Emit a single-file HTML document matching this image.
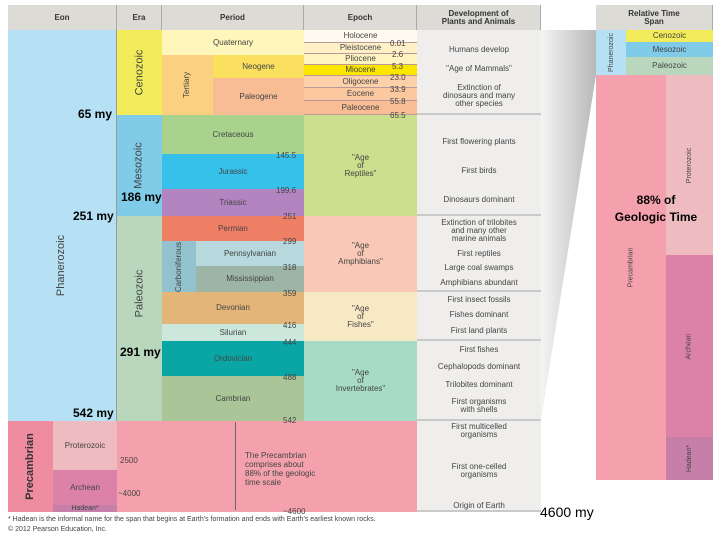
<!DOCTYPE html><html><head><style>
body{margin:0;width:720px;height:540px;background:#fff;position:relative;overflow:hidden;font-family:"Liberation Sans",sans-serif}
div{position:absolute;box-sizing:border-box}
.c{display:flex;align-items:center;justify-content:center;text-align:center;font-size:8px;color:#444;line-height:1}
.h{background:#dddbd6;border-right:1px solid #aaa;font-size:8px;color:#333;font-weight:bold}
.v{transform:rotate(-90deg);white-space:nowrap}
.b{font-weight:bold;font-size:12px;color:#000}
.n{font-size:8px;color:#444}
.ep{border-bottom:1px solid #b99}
.d{background:#efeeec;border-bottom:2px solid #c9c9c9}
</style></head><body>
<svg style="position:absolute;left:0;top:0" width="720" height="540">
<defs><linearGradient id="g" x1="0" x2="1"><stop offset="0" stop-color="#f4f4f4"/><stop offset="1" stop-color="#b8b8b8"/></linearGradient></defs>
<polygon points="541,30 596,30 596,75 541,420" fill="url(#g)"/>
</svg>
<!-- headers -->
<div class="c h" style="left:8px;top:5px;width:109px;height:25px">Eon</div>
<div class="c h" style="left:117px;top:5px;width:45px;height:25px">Era</div>
<div class="c h" style="left:162px;top:5px;width:142px;height:25px">Period</div>
<div class="c h" style="left:304px;top:5px;width:113px;height:25px">Epoch</div>
<div class="c h" style="left:417px;top:5px;width:124px;height:25px">Development of<br>Plants and Animals</div>
<div class="c h" style="left:596px;top:5px;width:117px;height:25px">Relative Time<br>Span</div>
<!-- eon -->
<div class="c" style="left:8px;top:30px;width:109px;height:391px;background:#b6e0f4;border-right:1px solid #999"><div class="v" style="font-size:11px;margin-top:80px">Phanerozoic</div></div>
<div class="c" style="left:8px;top:421px;width:45px;height:91px;background:#f08ca0"><div class="v" style="font-size:11px;font-weight:bold;color:#333">Precambrian</div></div>
<div class="c" style="left:53px;top:421px;width:64px;height:49px;background:#eebcc0">Proterozoic</div>
<div class="c" style="left:53px;top:470px;width:64px;height:35px;background:#dc82a8">Archean</div>
<div class="c" style="left:53px;top:505px;width:64px;height:7px;background:#c67fa8;font-size:7px">Hadean*</div>
<!-- era -->
<div class="c" style="left:117px;top:30px;width:45px;height:85px;background:#f3ec5a"><div class="v" style="font-size:11px">Cenozoic</div></div>
<div class="c" style="left:117px;top:115px;width:45px;height:101px;background:#7fcbe8"><div class="v" style="font-size:11px">Mesozoic</div></div>
<div class="c" style="left:117px;top:216px;width:45px;height:205px;background:#b9d7bd"><div class="v" style="font-size:11px;margin-top:-50px">Paleozoic</div></div>
<div style="left:117px;top:421px;width:300px;height:91px;background:#f4a1ad"></div>
<!-- period -->
<div class="c" style="left:162px;top:30px;width:142px;height:25px;background:#fff6bb">Quaternary</div>
<div class="c" style="left:162px;top:55px;width:51px;height:60px;background:#fbd080"><div class="v">Tertiary</div></div>
<div class="c" style="left:213px;top:55px;width:91px;height:23px;background:#fbe060">Neogene</div>
<div class="c" style="left:213px;top:78px;width:91px;height:37px;background:#f9bd96">Paleogene</div>
<div class="c" style="left:162px;top:115px;width:142px;height:39px;background:#a9d28c">Cretaceous</div>
<div class="c" style="left:162px;top:154px;width:142px;height:35px;background:#36c1ea">Jurassic</div>
<div class="c" style="left:162px;top:189px;width:142px;height:27px;background:#b385c0">Triassic</div>
<div class="c" style="left:162px;top:216px;width:142px;height:25px;background:#ef7f64">Permian</div>
<div class="c" style="left:162px;top:241px;width:34px;height:51px;background:#91c2ce"><div class="v">Carboniferous</div></div>
<div class="c" style="left:196px;top:241px;width:108px;height:25px;background:#b7d9dd">Pennsylvanian</div>
<div class="c" style="left:196px;top:266px;width:108px;height:26px;background:#9db5a6">Mississippian</div>
<div class="c" style="left:162px;top:292px;width:142px;height:32px;background:#e3b579">Devonian</div>
<div class="c" style="left:162px;top:324px;width:142px;height:17px;background:#cce8dc">Silurian</div>
<div class="c" style="left:162px;top:341px;width:142px;height:35px;background:#0aa6a6">Ordovician</div>
<div class="c" style="left:162px;top:376px;width:142px;height:45px;background:#aac597">Cambrian</div>
<!-- epoch -->
<div class="c ep" style="left:304px;top:30px;width:113px;height:13px;background:#fffaf0">Holocene</div>
<div class="c ep" style="left:304px;top:43px;width:113px;height:11px;background:#fff0c8">Pleistocene</div>
<div class="c ep" style="left:304px;top:54px;width:113px;height:11px;background:#fff4c0">Pliocene</div>
<div class="c ep" style="left:304px;top:65px;width:113px;height:11px;background:#fbe600">Miocene</div>
<div class="c ep" style="left:304px;top:76px;width:113px;height:12px;background:#fcd0a8">Oligocene</div>
<div class="c ep" style="left:304px;top:88px;width:113px;height:13px;background:#fcc8a0">Eocene</div>
<div class="c ep" style="left:304px;top:101px;width:113px;height:14px;background:#f9bd96">Paleocene</div>
<div class="c" style="left:304px;top:115px;width:113px;height:101px;background:#cbdf8e">"Age<br>of<br>Reptiles"</div>
<div class="c" style="left:304px;top:216px;width:113px;height:76px;background:#f9c8b7">"Age<br>of<br>Amphibians"</div>
<div class="c" style="left:304px;top:292px;width:113px;height:49px;background:#f8e9c5">"Age<br>of<br>Fishes"</div>
<div class="c" style="left:304px;top:341px;width:113px;height:80px;background:#a8dbc6">"Age<br>of<br>Invertebrates"</div>
<div class="n" style="left:245px;top:451px;width:100px">The Precambrian<br>comprises about<br>88% of the geologic<br>time scale</div>
<div style="left:235px;top:422px;width:1px;height:88px;background:#666"></div>
<!-- numbers -->
<div class="n" style="left:390px;top:39px">0.01</div><div class="n" style="left:392px;top:50px">2.6</div>
<div class="n" style="left:392px;top:62px">5.3</div><div class="n" style="left:390px;top:73px">23.0</div>
<div class="n" style="left:390px;top:85px">33.9</div><div class="n" style="left:390px;top:97px">55.8</div>
<div class="n" style="left:390px;top:111px">65.5</div><div class="n" style="left:276px;top:151px">145.5</div>
<div class="n" style="left:276px;top:186px">199.6</div><div class="n" style="left:283px;top:212px">251</div>
<div class="n" style="left:283px;top:237px">299</div><div class="n" style="left:283px;top:263px">318</div>
<div class="n" style="left:283px;top:289px">359</div><div class="n" style="left:283px;top:321px">416</div>
<div class="n" style="left:283px;top:338px">444</div><div class="n" style="left:283px;top:373px">488</div>
<div class="n" style="left:283px;top:416px">542</div><div class="n" style="left:120px;top:456px">2500</div>
<div class="n" style="left:118px;top:489px">~4000</div><div class="n" style="left:283px;top:507px">~4600</div>
<!-- development -->
<div class="c d" style="left:417px;top:30px;width:124px;height:85px;justify-content:space-around;flex-direction:column;padding:10px 0 0">Humans develop<br><span>"Age of Mammals"</span><span>Extinction of<br>dinosaurs and many<br>other species</span></div>
<div class="c d" style="left:417px;top:115px;width:124px;height:101px;flex-direction:column;justify-content:space-around;padding-top:12px">First flowering plants<span>First birds</span><span>Dinosaurs dominant</span></div>
<div class="c d" style="left:417px;top:216px;width:124px;height:76px;flex-direction:column;justify-content:space-around">Extinction of trilobites<br>and many other<br>marine animals<span>First reptiles</span><span>Large coal swamps</span><span>Amphibians abundant</span></div>
<div class="c d" style="left:417px;top:292px;width:124px;height:49px;flex-direction:column;justify-content:space-around">First insect fossils<span>Fishes dominant</span><span>First land plants</span></div>
<div class="c d" style="left:417px;top:341px;width:124px;height:80px;flex-direction:column;justify-content:space-around">First fishes<span>Cephalopods dominant</span><span>Trilobites dominant</span><span>First organisms<br>with shells</span></div>
<div class="c d" style="left:417px;top:421px;width:124px;height:91px;flex-direction:column;justify-content:space-between;padding:2px 0 0">First multicelled<br>organisms<span>First one-celled<br>organisms</span><span>Origin of Earth</span></div>
<!-- right panel -->
<div class="c" style="left:596px;top:30px;width:30px;height:45px;background:#b6e0f4"><div class="v" style="font-size:7px">Phanerozoic</div></div>
<div class="c" style="left:626px;top:30px;width:87px;height:12px;background:#f3ec5a">Cenozoic</div>
<div class="c" style="left:626px;top:42px;width:87px;height:15px;background:#7fcbe8">Mesozoic</div>
<div class="c" style="left:626px;top:57px;width:87px;height:18px;background:#b9d7bd">Paleozoic</div>
<div class="c" style="left:596px;top:75px;width:70px;height:405px;background:#f4a1ad"><div class="v" style="font-size:7px;margin-top:-20px">Precambrian</div></div>
<div class="c" style="left:666px;top:75px;width:47px;height:180px;background:#eebcc0"><div class="v" style="font-size:7px">Proterozoic</div></div>
<div class="c" style="left:666px;top:255px;width:47px;height:182px;background:#dc82a8"><div class="v" style="font-size:7px">Archean</div></div>
<div class="c" style="left:666px;top:437px;width:47px;height:43px;background:#c67fa8"><div class="v" style="font-size:7px">Hadean*</div></div>
<!-- bold labels -->
<div class="b" style="left:78px;top:107px">65 my</div>
<div class="b" style="left:121px;top:190px">186 my</div>
<div class="b" style="left:73px;top:209px">251 my</div>
<div class="b" style="left:120px;top:345px">291 my</div>
<div class="b" style="left:73px;top:406px">542 my</div>
<div class="b" style="left:540px;top:504px;font-size:14px;font-weight:normal">4600 my</div>
<div class="b" style="left:606px;top:192px;width:100px;text-align:center;line-height:17px">88% of<br>Geologic Time</div>
<div class="n" style="left:8px;top:516px;font-size:7px">* Hadean is the informal name for the span that begins at Earth's formation and ends with Earth's earliest known rocks.</div>
<div class="n" style="left:8px;top:526px;font-size:7px">© 2012 Pearson Education, Inc.</div>
</body></html>
